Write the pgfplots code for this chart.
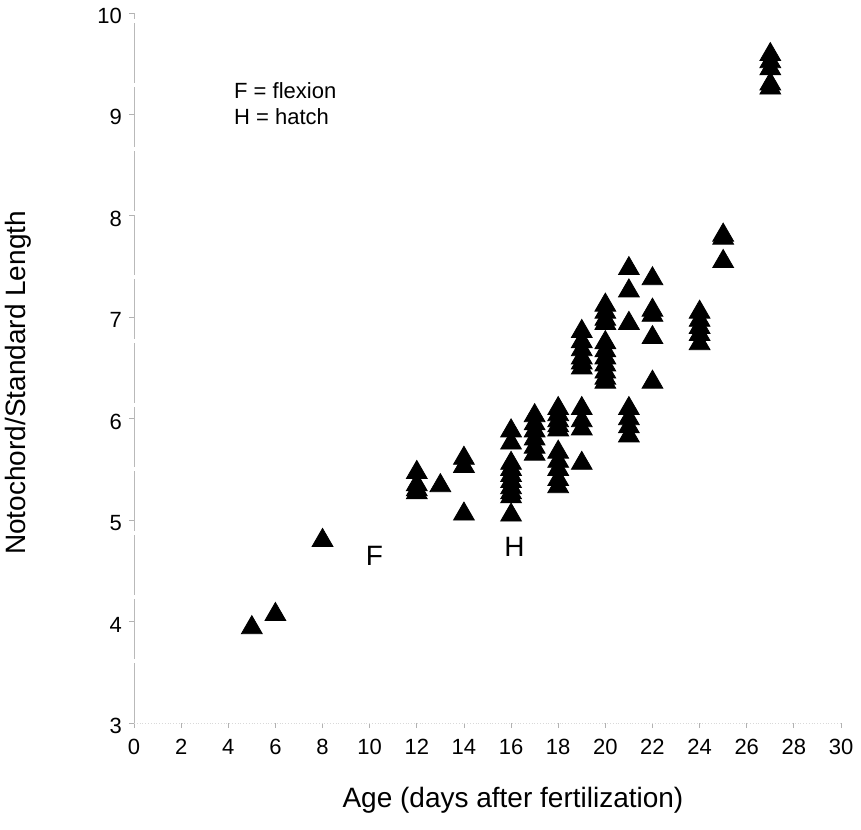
\documentclass[border=0pt]{standalone}
\usepackage{fontspec}
\setmainfont{Liberation Sans}
\usepackage{pgfplots}
\pgfplotsset{compat=1.18}

\begin{document}
\begin{tikzpicture}
\begin{axis}[
  scale only axis, width=353.5pt, height=355pt,
  xmin=0, xmax=30, ymin=3, ymax=10,
  xtick={0,2,...,30}, ytick={3,4,...,10},
  axis x line=bottom, axis y line=left,
  x axis line style={-, draw=gray!30, densely dotted},
  y axis line style={-, draw=gray!55, line width=0.4pt, dash pattern=on 30pt off 2pt},
  tick style={gray!60, line width=0.4pt},
  major tick length=2.5pt, tick align=outside,
  /pgf/number format/assume math mode=true,
  ticklabel style={font=\fontsize{11}{13}\selectfont},
  xticklabel style={yshift=-2pt},
  yticklabel style={yshift=-1.5pt},
  xlabel={Age (days after fertilization)},
  ylabel={Notochord/Standard Length},
  label style={font=\fontsize{14}{16}\selectfont},
  xlabel style={at={(axis description cs:0.536,0)}, anchor=center, yshift=-38.5pt},
  ylabel style={at={(axis description cs:-0.164,0.479)}, anchor=center},
  clip=false,
]
\addplot[only marks, mark=triangle*, mark size=6pt, color=black] coordinates {
  (5,3.94) (6,4.07) (8,4.80)
  (12,5.47) (12,5.35) (12,5.30) (12,5.27)
  (13,5.34)
  (14,5.61) (14,5.53) (14,5.06)
  (16,5.88) (16,5.76) (16,5.56) (16,5.50) (16,5.44) (16,5.38) (16,5.32) (16,5.27) (16,5.23) (16,5.05)
  (17,6.03) (17,5.95) (17,5.88) (17,5.80) (17,5.72) (17,5.65)
  (18,6.10) (18,6.04) (18,5.98) (18,5.93) (18,5.89)
  (18,5.67) (18,5.58) (18,5.50) (18,5.40) (18,5.33)
  (19,6.86) (19,6.76) (19,6.68) (19,6.60) (19,6.55) (19,6.50)
  (19,6.10) (19,5.98) (19,5.90) (19,5.56)
  (20,7.12) (20,7.05) (20,6.98) (20,6.94) (20,6.75) (20,6.67) (20,6.60) (20,6.53) (20,6.46) (20,6.40) (20,6.36)
  (21,7.48) (21,7.26) (21,6.94) (21,6.10) (21,6.00) (21,5.92) (21,5.83)
  (22,7.38) (22,7.07) (22,7.02) (22,6.80) (22,6.36)
  (24,7.05) (24,6.97) (24,6.90) (24,6.83) (24,6.74)
  (25,7.81) (25,7.78) (25,7.55)
  (27,9.59) (27,9.52) (27,9.45) (27,9.30) (27,9.26)
};
\node[anchor=west, font=\fontsize{11}{13}\selectfont, align=left] at (axis cs:3.95,9.11) {F = flexion\\H = hatch};
\node[font=\fontsize{14}{16}\selectfont] at (axis cs:10.2,4.65) {F};
\node[font=\fontsize{14}{16}\selectfont] at (axis cs:16.15,4.74) {H};
\end{axis}
\pgfresetboundingbox
\path[use as bounding box] (-67pt,-53pt) rectangle (363.5pt,361.5pt);
\end{tikzpicture}
\end{document}
